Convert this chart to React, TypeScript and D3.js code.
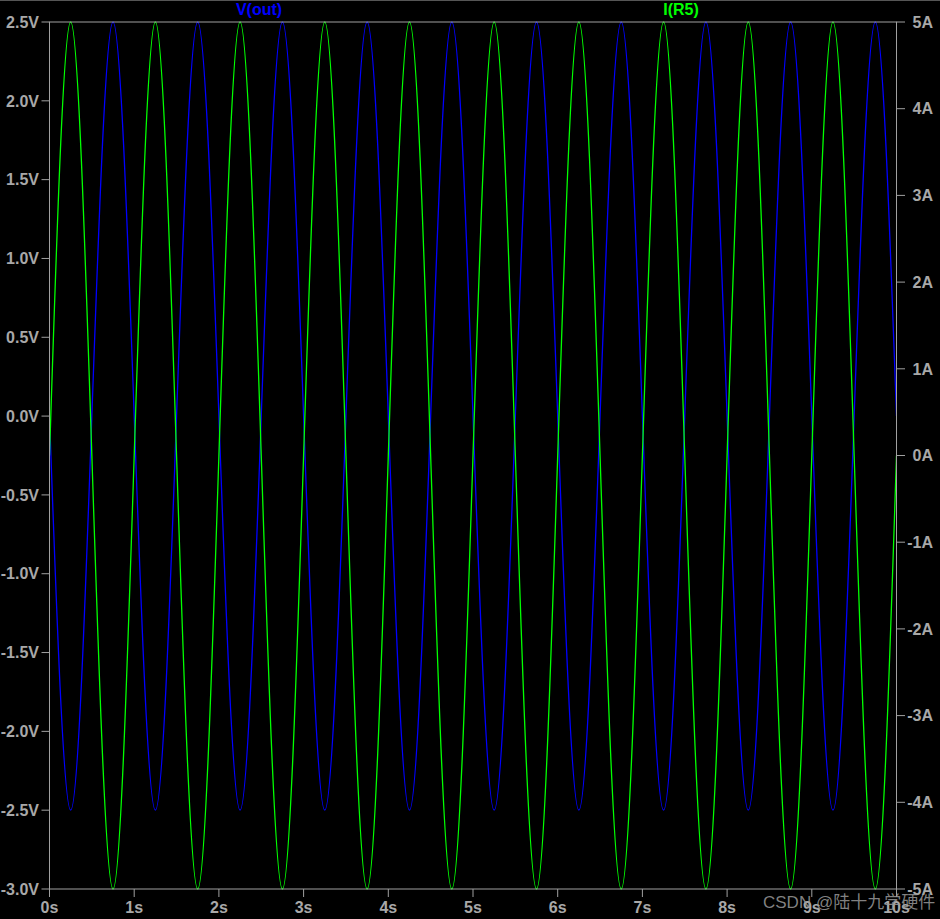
import React from "react";
import * as d3 from "d3";

// Sample times (s) read at peaks, troughs and zero crossings
const times = [
  0, 0.25, 0.5, 0.75, 1, 1.25, 1.5, 1.75, 2, 2.25, 2.5, 2.75, 3, 3.25, 3.5, 3.75,
  4, 4.25, 4.5, 4.75, 5, 5.25, 5.5, 5.75, 6, 6.25, 6.5, 6.75, 7, 7.25, 7.5, 7.75,
  8, 8.25, 8.5, 8.75, 9, 9.25, 9.5, 9.75, 10,
];
// V(out) in volts
const vOut = [
  0, -2.5, 0, 2.5, 0, -2.5, 0, 2.5, 0, -2.5, 0, 2.5, 0, -2.5, 0, 2.5,
  0, -2.5, 0, 2.5, 0, -2.5, 0, 2.5, 0, -2.5, 0, 2.5, 0, -2.5, 0, 2.5,
  0, -2.5, 0, 2.5, 0, -2.5, 0, 2.5, 0,
];
// I(R5) in amperes
const iR5 = [
  0, 5, 0, -5, 0, 5, 0, -5, 0, 5, 0, -5, 0, 5, 0, -5,
  0, 5, 0, -5, 0, 5, 0, -5, 0, 5, 0, -5, 0, 5, 0, -5,
  0, 5, 0, -5, 0, 5, 0, -5, 0,
];

const xTicks = [0, 1, 2, 3, 4, 5, 6, 7, 8, 9, 10];
const vTicks = [-3.0, -2.5, -2.0, -1.5, -1.0, -0.5, 0.0, 0.5, 1.0, 1.5, 2.0, 2.5];
const aTicks = [-5, -4, -3, -2, -1, 0, 1, 2, 3, 4, 5];

const W = 940;
const H = 919;
const L = 49.5, R = 896.5, T = 22, B = 889;

export default function App() {
  const x = d3.scaleLinear().domain([0, 10]).range([L, R]);
  const yV = d3.scaleLinear().domain([-3, 2.5]).range([B, T]);
  const yI = d3.scaleLinear().domain([-5, 5]).range([B, T]);

  const vLine = d3
    .line<number>()
    .x((_, i) => x(times[i]))
    .y((d) => yV(d))
    .curve(d3.curveNatural);
  const iLine = d3
    .line<number>()
    .x((_, i) => x(times[i]))
    .y((d) => yI(d))
    .curve(d3.curveNatural);

  const axisColor = "#a0a0a0";
  const textColor = "#a8a8a8";
  const font = "'Liberation Sans', Arial, sans-serif";

  return (
    <svg
      width={W}
      height={H}
      style={{ position: "absolute", left: 0, top: 0, background: "#000" }}
    >
      <rect x={0} y={0} width={W} height={H} fill="#000" />
      <line x1={0} x2={W} y1={0.5} y2={0.5} stroke="#555" strokeWidth={1} />
      <defs>
        <clipPath id="plotClip">
          <rect x={L} y={T - 1} width={R - L} height={B - T + 2} />
        </clipPath>
      </defs>

      {/* traces */}
      <g clipPath="url(#plotClip)">
        <path d={vLine(vOut) || ""} fill="none" stroke="#0000ff" strokeWidth={1.3} />
        <path d={iLine(iR5) || ""} fill="none" stroke="#00ff00" strokeWidth={1.3} />
      </g>

      {/* frame */}
      <rect x={L} y={T} width={R - L} height={B - T} fill="none" stroke={axisColor} strokeWidth={1} />

      {/* x axis */}
      {xTicks.map((t) => (
        <g key={"x" + t}>
          <line x1={x(t)} x2={x(t)} y1={B} y2={B + 8} stroke={axisColor} />
          <text
            x={x(t)}
            y={913}
            textAnchor="middle"
            fill={textColor}
            fontFamily={font}
            fontWeight="bold"
            fontSize={16}
          >
            {t + "s"}
          </text>
        </g>
      ))}

      {/* left axis */}
      {vTicks.map((v) => (
        <g key={"v" + v}>
          <line x1={L - 8} x2={L} y1={yV(v)} y2={yV(v)} stroke={axisColor} />
          <text
            x={39}
            y={yV(v)}
            dy="0.36em"
            textAnchor="end"
            fill={textColor}
            fontFamily={font}
            fontWeight="bold"
            fontSize={16}
          >
            {v.toFixed(1) + "V"}
          </text>
        </g>
      ))}

      {/* right axis */}
      {aTicks.map((a) => (
        <g key={"a" + a}>
          <line x1={R} x2={R + 8.5} y1={yI(a)} y2={yI(a)} stroke={axisColor} />
          <text
            x={933}
            y={yI(a)}
            dy="0.36em"
            textAnchor="end"
            fill={textColor}
            fontFamily={font}
            fontWeight="bold"
            fontSize={16}
          >
            {a + "A"}
          </text>
        </g>
      ))}

      {/* trace labels */}
      <text x={259} y={15} textAnchor="middle" fill="#0000ff" fontFamily={font} fontWeight="bold" fontSize={16}>
        V(out)
      </text>
      <text x={681} y={15} textAnchor="middle" fill="#00ff00" fontFamily={font} fontWeight="bold" fontSize={16}>
        I(R5)
      </text>

      {/* watermark */}
      <text
        x={763}
        y={908}
        fill="#9a9a9a"
        fillOpacity={0.85}
        fontFamily="'Liberation Sans', 'Noto Sans CJK SC', sans-serif"
        fontSize={17}
      >
        CSDN @陆十九学硬件
      </text>
    </svg>
  );
}
